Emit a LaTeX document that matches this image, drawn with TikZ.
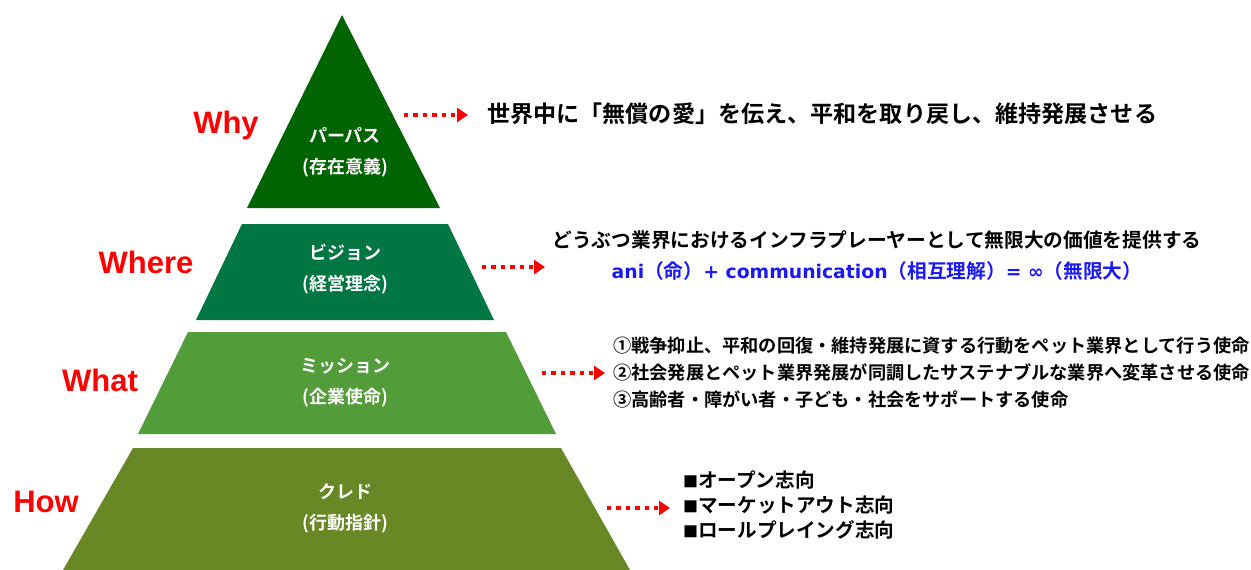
\documentclass[tikz,border=0pt]{standalone}
\usepackage{fontspec}
\setmainfont{Noto Sans CJK JP}[BoldFont={* Bold}]
\newfontfamily\latinfont{Liberation Sans}
\newfontfamily\formulafont{DejaVu Sans}
\usetikzlibrary{arrows.meta, positioning}

\definecolor{purposegreen}{RGB}{0,100,0}
\definecolor{visiongreen}{RGB}{0,118,66}
\definecolor{missiongreen}{RGB}{82,156,58}
\definecolor{credogreen}{RGB}{104,136,38}
\definecolor{askred}{RGB}{255,0,0}
\definecolor{formulablue}{RGB}{25,25,240}

\newcommand{\lat}[1]{{\formulafont\bfseries\fontsize{18.8}{31}\selectfont #1}}

\begin{document}
\begin{tikzpicture}[x=1pt, y=-1pt, >=Triangle,
    level/.style={font=\bfseries\fontsize{18}{31}\selectfont, text=white, align=center},
    ask/.style={font=\latinfont\bfseries\fontsize{31}{31}\selectfont, text=askred},
    dotline/.style={draw=askred, line width=4.4pt, dash pattern=on 4.4pt off 5pt, -{Triangle[length=11pt,width=14pt]}},
    answer/.style={font=\bfseries\fontsize{18.2}{27}\selectfont, align=left, anchor=west, inner sep=0pt}]
    \useasboundingbox (0,0) rectangle (1251,570);

    % Pyramid bands
    \fill[purposegreen] (342,15) -- (440,208) -- (247,208) -- cycle;
    \fill[visiongreen] (242,224) -- (448,224) -- (494,320) -- (196,320) -- cycle;
    \fill[missiongreen] (188,332) -- (506,332) -- (556,434) -- (138,434) -- cycle;
    \fill[credogreen] (133,448) -- (561,448) -- (630,570) -- (63,570) -- cycle;

    % Labels inside the pyramid
    \node[level] (purpose) at (345,152) {パーパス\\(存在意義)};
    \node[level] (vision) at (345,269) {ビジョン\\(経営理念)};
    \node[level] (mission) at (345,383) {ミッション\\(企業使命)};
    \node[level] (credo) at (345,508) {クレド\\(行動指針)};

    % Questions on the left
    \node[ask] (why) at (226,125) {Why};
    \node[ask] (where) at (146,262) {Where};
    \node[ask] (what) at (100,380) {What};
    \node[ask] (how) at (46,502) {How};

    % Arrow ends
    \coordinate (whyA) at (404,115);
    \coordinate (whyB) at (468,115);
    \coordinate (whereA) at (482,267);
    \coordinate (whereB) at (545,267);
    \coordinate (whatA) at (542,373);
    \coordinate (whatB) at (605,373);
    \coordinate (howA) at (607,508);
    \coordinate (howB) at (670,508);

    % Texts on the right
    \node[answer, font=\bfseries\fontsize{23.1}{27}\selectfont] (whyText) at (487,114)
        {世界中に「無償の愛」を伝え、平和を取り戻し、維持発展させる};
    \node[font=\bfseries\fontsize{19.7}{31}\selectfont, align=center, inner sep=0pt] (whereText) at (877,256)
        {どうぶつ業界におけるインフラプレーヤーとして無限大の価値を提供する\\
         \textcolor{formulablue}{\lat{ani}（命）\lat{+ communication}（相互理解）\lat{= ∞}（無限大）}};
    \node[answer] (whatText) at (613,373)
        {①戦争抑止、平和の回復・維持発展に資する行動をペット業界として行う使命\\
         ②社会発展とペット業界発展が同調したサステナブルな業界へ変革させる使命\\
         ③高齢者・障がい者・子ども・社会をサポートする使命};
    \node[answer, font=\bfseries\fontsize{19.6}{25}\selectfont] (howText) at (683,505)
        {{\fontsize{15}{25}\selectfont ■}オープン志向\\{\fontsize{15}{25}\selectfont ■}マーケットアウト志向\\{\fontsize{15}{25}\selectfont ■}ロールプレイング志向};

    % Dotted arrows
    \draw[dotline] (whyA) -- (whyB);
    \draw[dotline] (whereA) -- (whereB);
    \draw[dotline] (whatA) -- (whatB);
    \draw[dotline] (howA) -- (howB);
\end{tikzpicture}
\end{document}
